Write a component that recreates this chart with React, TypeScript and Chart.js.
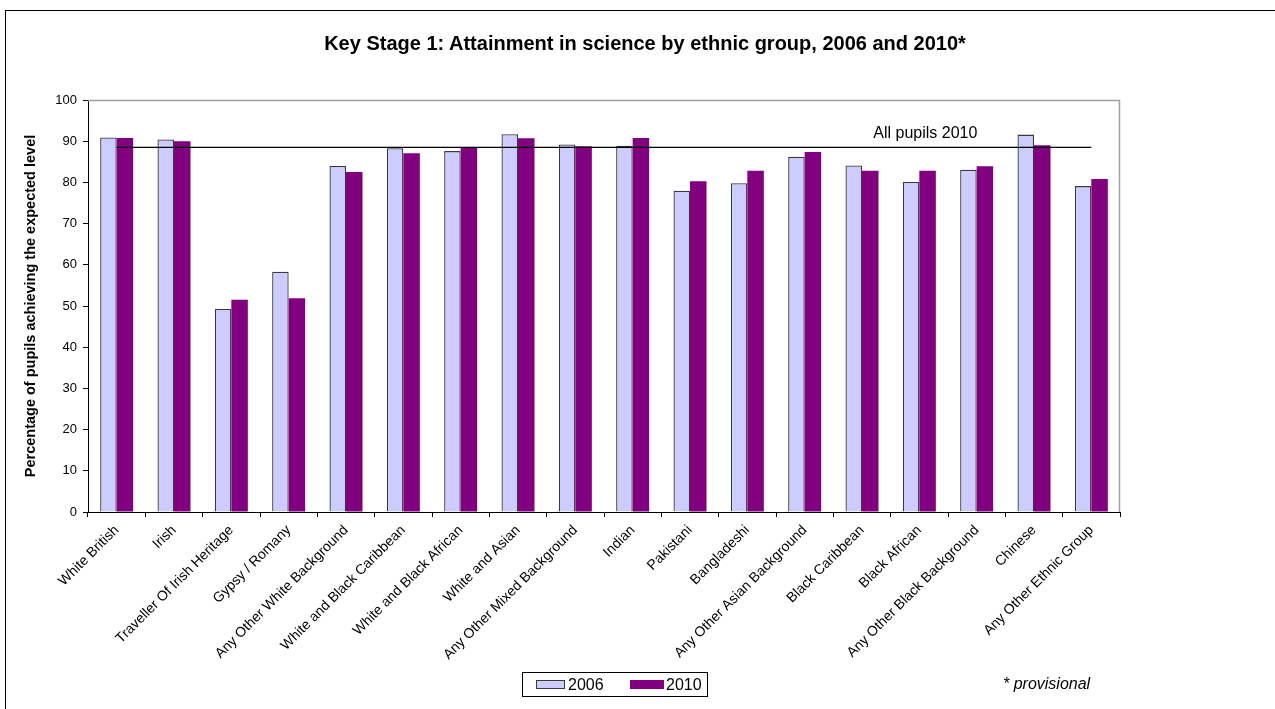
import React, { useEffect, useRef } from "react";
import { Chart, registerables } from "chart.js";

Chart.register(...registerables);

// Ethnic groups along the category axis
const ethnicGroups = [
  "White British",
  "Irish",
  "Traveller Of Irish Heritage",
  "Gypsy / Romany",
  "Any Other White Background",
  "White and Black Caribbean",
  "White and Black African",
  "White and Asian",
  "Any Other Mixed Background",
  "Indian",
  "Pakistani",
  "Bangladeshi",
  "Any Other Asian Background",
  "Black Caribbean",
  "Black African",
  "Any Other Black Background",
  "Chinese",
  "Any Other Ethnic Group",
];

// % of pupils achieving the expected level in science
const science2006 = [90.9, 90.4, 49.3, 58.3, 84.0, 88.3, 87.6, 91.7, 89.2, 88.9, 78.0, 79.8, 86.2, 84.1, 80.1, 83.1, 91.6, 79.1];
const science2010 = [90.8, 90.0, 51.5, 51.9, 82.5, 87.1, 88.5, 90.7, 88.8, 90.8, 80.3, 82.8, 87.4, 82.8, 82.8, 83.9, 89.0, 80.8];

// National figure for all pupils in 2010
const ALL_PUPILS_2010 = 88.5;
const ALL_PUPILS_LABEL = "All pupils 2010";

const seriesNames = ["2006", "2010"];
const seriesColors = ["#CCCCFF", "#800080"];
const seriesBorders = ["#3a3a3a", "#800080"];

const FONT = '"Liberation Sans", Arial, Helvetica, sans-serif';

// Grey frame on the top and right of the plot area, plus the reference-line caption
const plotDecor = {
  id: "plotDecor",
  beforeDatasetsDraw(chart: any) {
    const { ctx, chartArea } = chart;
    const { left, top, right, bottom } = chartArea;
    ctx.save();
    ctx.strokeStyle = "#a0a0a0";
    ctx.lineWidth = 1.5;
    ctx.beginPath();
    ctx.moveTo(left, top + 0.5);
    ctx.lineTo(right - 0.5, top + 0.5);
    ctx.lineTo(right - 0.5, bottom);
    ctx.stroke();
    ctx.restore();
  },
  afterDatasetsDraw(chart: any) {
    const { ctx, scales } = chart;
    const x = scales.x.getPixelForValue(14) + 6;
    const y = scales.y.getPixelForValue(ALL_PUPILS_2010) - 9;
    ctx.save();
    ctx.font = `16px ${FONT}`;
    ctx.fillStyle = "#000";
    ctx.textAlign = "center";
    ctx.textBaseline = "alphabetic";
    ctx.fillText(ALL_PUPILS_LABEL, x, y);
    ctx.restore();
  },
};

export default function App() {
  const canvasRef = useRef<HTMLCanvasElement | null>(null);

  useEffect(() => {
    if (!canvasRef.current) return;
    const chart = new Chart(canvasRef.current, {
      type: "bar",
      data: {
        labels: ethnicGroups,
        datasets: [
          {
            type: "line",
            label: ALL_PUPILS_LABEL,
            data: ethnicGroups.map(() => ALL_PUPILS_2010),
            borderColor: "#000",
            borderWidth: 1.3,
            pointRadius: 0,
            fill: false,
            order: 0,
          } as any,
          {
            label: seriesNames[0],
            data: science2006,
            backgroundColor: seriesColors[0],
            borderColor: seriesBorders[0],
            borderWidth: 1.3,
            categoryPercentage: 0.576,
            barPercentage: 1,
            order: 1,
          },
          {
            label: seriesNames[1],
            data: science2010,
            backgroundColor: seriesColors[1],
            borderColor: seriesBorders[1],
            borderWidth: 0,
            categoryPercentage: 0.576,
            barPercentage: 1,
            order: 1,
          },
        ],
      },
      options: {
        animation: false,
        responsive: false,
        devicePixelRatio: 1,
        layout: { padding: { left: 0, top: 100, right: 155, bottom: 0 } },
        plugins: {
          legend: { display: false },
          title: { display: false },
          tooltip: { enabled: false },
        },
        scales: {
          x: {
            grid: {
              offset: true,
              drawOnChartArea: false,
              drawTicks: true,
              tickLength: 5,
              color: "#000",
            },
            border: { color: "#000", width: 1 },
            ticks: {
              autoSkip: false,
              maxRotation: 45,
              minRotation: 45,
              padding: 5,
              color: "#000",
              font: { family: FONT, size: 14 },
            },
            afterFit(scale: any) {
              scale.height = 197;
            },
          },
          y: {
            min: 0,
            max: 100,
            grid: {
              drawOnChartArea: false,
              drawTicks: true,
              tickLength: 5,
              color: "#000",
            },
            border: { color: "#000", width: 1 },
            ticks: {
              stepSize: 10,
              padding: 6,
              color: "#000",
              font: { family: FONT, size: 13 },
            },
            title: {
              display: true,
              text: "Percentage of pupils achieving the expected level",
              color: "#000",
              font: { family: FONT, size: 14.5, weight: "bold" },
              padding: { top: 22, bottom: 0 },
            },
            afterFit(scale: any) {
              scale.width = 88;
            },
          },
        },
      },
      plugins: [plotDecor],
    });
    return () => chart.destroy();
  }, []);

  return (
    <div
      style={{
        position: "fixed",
        left: 0,
        top: 0,
        width: 1275,
        height: 709,
        overflow: "hidden",
        background: "#fff",
        fontFamily: FONT,
      }}
    >
      <div
        style={{
          position: "absolute",
          left: 5,
          top: 10,
          width: 1300,
          height: 720,
          borderTop: "1.5px solid #000",
          borderLeft: "1.5px solid #000",
        }}
      />
      <canvas
        ref={canvasRef}
        width={1275}
        height={709}
        style={{ position: "absolute", left: 0, top: 0 }}
      />
      <div
        style={{
          position: "absolute",
          left: 0,
          width: 1290,
          top: 31,
          textAlign: "center",
          fontWeight: "bold",
          fontSize: 20,
          lineHeight: "24px",
          color: "#000",
        }}
      >
        Key Stage 1: Attainment in science by ethnic group, 2006 and 2010*
      </div>
      <div
        style={{
          position: "absolute",
          left: 522,
          top: 672,
          width: 186,
          height: 25,
          boxSizing: "border-box",
          border: "1px solid #000",
          background: "#fff",
        }}
      >
        {seriesNames.map((name, i) => (
          <div
            key={name}
            style={{
              position: "absolute",
              left: i === 0 ? 13 : 107,
              top: 0,
              height: 23,
              display: "flex",
              alignItems: "center",
            }}
          >
            <span
              style={{
                display: "inline-block",
                width: i === 0 ? 29 : 34,
                height: 9,
                boxSizing: "border-box",
                background: seriesColors[i],
                border: i === 0 ? "1.3px solid #3a3a3a" : "none",
                marginRight: i === 0 ? 3 : 2,
              }}
            />
            <span style={{ fontSize: 16, color: "#000" }}>{name}</span>
          </div>
        ))}
      </div>
      <div
        style={{
          position: "absolute",
          left: 1003,
          top: 675,
          fontSize: 16,
          fontStyle: "italic",
          color: "#000",
        }}
      >
        * provisional
      </div>
    </div>
  );
}
